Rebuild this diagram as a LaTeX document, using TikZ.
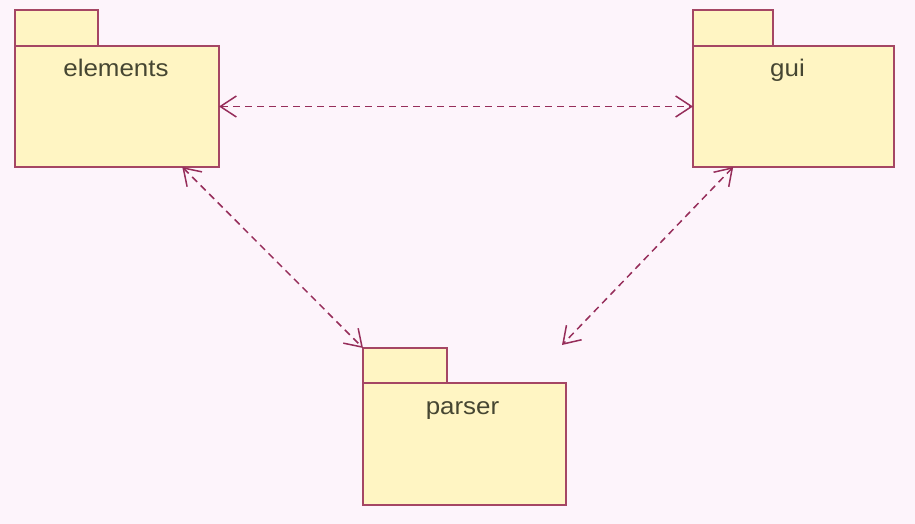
\documentclass[tikz,border=0pt]{standalone}
\usepackage{fontspec}
\setmainfont{Liberation Sans}
\newfontfamily\pkfont[FakeStretch=1.08]{Liberation Sans}
\usetikzlibrary{arrows.meta,calc}
\definecolor{bg}{RGB}{253,244,251}
\definecolor{pkfill}{RGB}{255,245,195}
\definecolor{pkline}{RGB}{165,70,100}
\definecolor{arr}{RGB}{150,45,90}
\definecolor{txt}{RGB}{70,70,50}
\begin{document}
\begin{tikzpicture}[x=1pt,y=-1pt,
  pkshape/.style={draw=pkline,fill=pkfill,line width=1.8pt,inner sep=0pt,outer sep=0pt,anchor=north west},
  pklabel/.style={anchor=base,text=txt,font=\pkfont\fontsize{24}{24}\selectfont,inner sep=0pt},
  dep/.style={draw=arr,line width=1.5pt,dash pattern=on 7pt off 5pt,
    >={Straight Barb[length=16pt,width=21pt,line width=1.5pt]},<->}]
\fill[bg] (0,0) rectangle (915,524);
\useasboundingbox (0,0) rectangle (915,524);
% elements
\node[pkshape,minimum width=83pt,minimum height=37pt] (elementstab) at (15,10) {};
\node[pkshape,minimum width=204pt,minimum height=121pt] (elements) at (15,46) {};
\node[pklabel] (elementslabel) at ($(elements.north)+(-1,31)$) {elements};
% gui
\node[pkshape,minimum width=80pt,minimum height=37pt] (guitab) at (693,10) {};
\node[pkshape,minimum width=201pt,minimum height=121pt] (gui) at (693,46) {};
\node[pklabel] (guilabel) at ($(gui.north)+(-6,31)$) {gui};
% parser
\node[pkshape,minimum width=84pt,minimum height=36pt] (parsertab) at (363,348) {};
\node[pkshape,minimum width=203pt,minimum height=122pt] (parser) at (363,383) {};
\node[pklabel] (parserlabel) at ($(parser.north)+(-2,31)$) {parser};
% dependencies
\coordinate (free) at (562,345);
\draw[dep] (elements.east) -- (gui.west);
\draw[dep] ($(elements.south west)!0.82!(elements.south east)$) -- (parsertab.north west);
\draw[dep] ($(gui.south west)!0.2!(gui.south east)$) -- (free);
\end{tikzpicture}
\end{document}
